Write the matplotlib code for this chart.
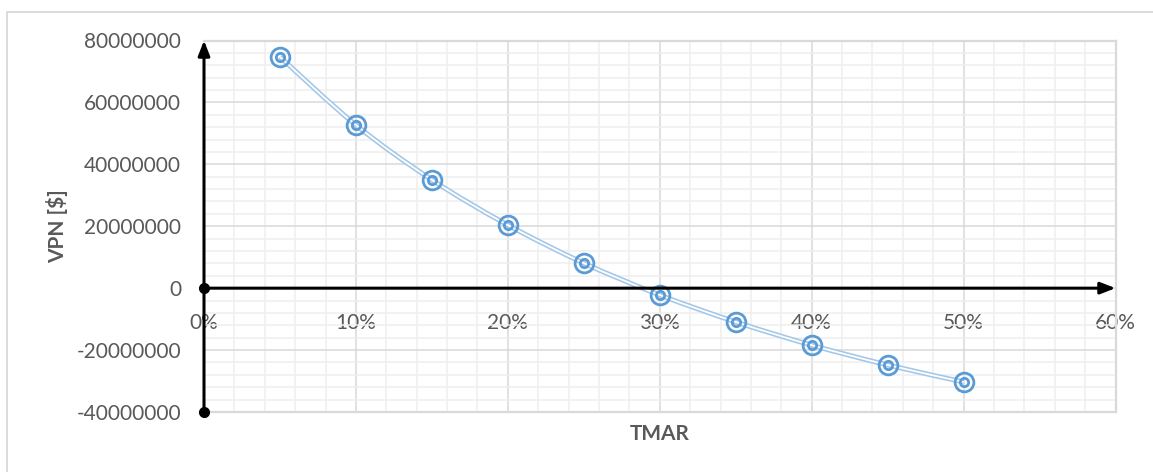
import matplotlib
matplotlib.use("Agg")
import matplotlib.pyplot as plt
import numpy as np
from matplotlib.path import Path
from matplotlib.patches import PathPatch, Rectangle
from matplotlib.ticker import MultipleLocator, FuncFormatter, PercentFormatter

# TMAR (discount rate) vs. VPN (net present value)
tmar = [0.05, 0.10, 0.15, 0.20, 0.25, 0.30, 0.35, 0.40, 0.45, 0.50]
vpn = [74.7e6, 52.7e6, 35.0e6, 20.4e6, 8.1e6, -2.2e6, -10.9e6, -18.4e6, -24.8e6, -30.3e6]

x_label = "TMAR"
y_label = "VPN [$]"

plt.rcParams["font.family"] = ["Lato", "DejaVu Sans"]
text_color = "#595959"
major_grid = "#d9d9d9"
minor_grid = "#efefef"
line_color = "#a3c7e9"
marker_color = "#5b9bd5"

W, H = 1153, 472
fig = plt.figure(figsize=(W / 100, H / 100), dpi=100)

# chart frame
fig.patches.append(Rectangle((7 / W, -0.1), 1.2, (H - 12) / H + 0.1,
                             transform=fig.transFigure, fill=False,
                             edgecolor=major_grid, lw=1.3))

ax = fig.add_axes([204 / W, (H - 412) / H, (1115.5 - 204) / W, (412 - 40.5) / H])
ax.set_xlim(0, 0.6)
ax.set_ylim(-40e6, 80e6)

ax.xaxis.set_major_locator(MultipleLocator(0.1))
ax.xaxis.set_minor_locator(MultipleLocator(0.02))
ax.yaxis.set_major_locator(MultipleLocator(20e6))
ax.yaxis.set_minor_locator(MultipleLocator(4e6))
ax.xaxis.set_major_formatter(PercentFormatter(1.0, decimals=0))
ax.yaxis.set_major_formatter(FuncFormatter(lambda v, p: f"{v:.0f}"))

ax.grid(which="major", color=major_grid, lw=1.1, zorder=0)
ax.grid(which="minor", color=minor_grid, lw=1.1, zorder=0)
ax.set_axisbelow(True)

# category labels sit along the zero line
ax.spines["bottom"].set_position(("data", 0))
ax.spines["bottom"].set_visible(False)
ax.spines["left"].set_visible(False)
for s in ("top", "right"):
    ax.spines[s].set_color(major_grid)
    ax.spines[s].set_linewidth(1.6)
ax.axhline(-40e6, color=major_grid, lw=1.6, clip_on=False, zorder=1)

ax.tick_params(which="both", length=0)
ax.tick_params(axis="x", pad=18, labelsize=15, labelcolor=text_color)
ax.tick_params(axis="y", pad=16.5, labelsize=15, labelcolor=text_color)

# smoothed double line through the points (Catmull-Rom as cubic Bezier)
pts = np.column_stack([tmar, vpn])
verts = [pts[0]]
codes = [Path.MOVETO]
n = len(pts)
for i in range(n - 1):
    p0 = pts[i - 1] if i > 0 else pts[i]
    p1 = pts[i]
    p2 = pts[i + 1]
    p3 = pts[i + 2] if i + 2 < n else pts[i + 1]
    c1 = p1 + (p2 - p0) / 6
    c2 = p2 - (p3 - p1) / 6
    verts += [c1, c2, p2]
    codes += [Path.CURVE4] * 3
path = Path(verts, codes)
ax.add_patch(PathPatch(path, fill=False, edgecolor=line_color, lw=3.6, zorder=3))
ax.add_patch(PathPatch(path, fill=False, edgecolor="white", lw=1.3, zorder=3))

# double-ring markers
ax.plot(tmar, vpn, ls="none", marker="o", ms=13.5, mfc="none", mec=marker_color,
        mew=2.0, zorder=4)
ax.plot(tmar, vpn, ls="none", marker="o", ms=6.0, mfc="none", mec=marker_color,
        mew=2.0, zorder=4)

# axes drawn as arrows with anchor dots
arrow = dict(arrowstyle="-|>,head_length=0.9,head_width=0.35", color="black",
             lw=2.2, shrinkA=0, shrinkB=0)
ax.annotate("", xy=(0, 80e6), xytext=(0, -40e6), arrowprops=arrow,
            annotation_clip=False, zorder=5)
ax.annotate("", xy=(0.6, 0), xytext=(0, 0), arrowprops=arrow,
            annotation_clip=False, zorder=5)
ax.plot([0, 0], [0, -40e6], ls="none", marker="o", ms=7, color="black",
        clip_on=False, zorder=6)

ax.set_xlabel(x_label, fontsize=15, fontweight="bold", color=text_color, va="center")
ax.set_ylabel(y_label, fontsize=15, fontweight="bold", color=text_color, va="center")
ax.xaxis.set_label_coords(0.5, -0.059)
ax.yaxis.set_label_coords(-0.161, 0.5)

fig.savefig("out.png", dpi=100)
